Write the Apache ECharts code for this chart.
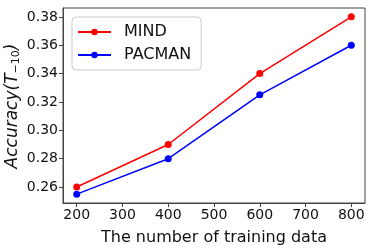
<!DOCTYPE html>
<html><head><meta charset="utf-8">
<script src="https://cdn.jsdelivr.net/npm/echarts@6/dist/echarts.min.js"></script>
<style>html,body{margin:0;padding:0;background:#fff}#c{width:374px;height:251px}</style>
</head><body><div id="c"></div>
<script>
const xValues = [200, 400, 600, 800];
const mindValues = [0.26, 0.29, 0.34, 0.38];
const pacmanValues = [0.255, 0.28, 0.325, 0.36];
const xTicks = [200, 300, 400, 500, 600, 700, 800];
const yTicks = [0.26, 0.28, 0.30, 0.32, 0.34, 0.36, 0.38];
const F = 'DejaVu Sans';
const chart = echarts.init(document.getElementById('c'));
chart.setOption({
  animation: false,
  grid: {left: 63, top: 8, right: 9, bottom: 46, show: true, borderColor: '#444', borderWidth: 1},
  xAxis: {
    type: 'value', min: 170, max: 830,
    axisLine: {show: true, onZero: false, lineStyle: {color: '#444'}},
    splitLine: {show: false},
    axisTick: {show: true, length: 4, customValues: xTicks, lineStyle: {color: '#444'}},
    axisLabel: {customValues: xTicks, color: '#111', fontFamily: F, fontSize: 14, margin: 5},
    name: 'The number of training data', nameLocation: 'middle', nameGap: 27,
    nameTextStyle: {color: '#111', fontFamily: F, fontSize: 16}
  },
  yAxis: {
    type: 'value', min: 0.24875, max: 0.38625,
    axisLine: {show: true, onZero: false, lineStyle: {color: '#444'}},
    splitLine: {show: false},
    axisTick: {show: true, length: 4, customValues: yTicks, lineStyle: {color: '#444'}},
    axisLabel: {customValues: yTicks, color: '#111', fontFamily: F, fontSize: 14, margin: 5,
      formatter: v => v.toFixed(2)}
  },
  legend: {
    left: 72, top: 17, orient: 'vertical',
    itemWidth: 33, itemHeight: 8, itemGap: 7,
    padding: [7, 10, 7, 5],
    borderColor: '#ccc', borderWidth: 1, borderRadius: 4,
    textStyle: {color: '#111', fontFamily: F, fontSize: 16, padding: [0, 0, 0, 8]},
    data: ['MIND', 'PACMAN']
  },
  graphic: [{
    type: 'text', rotation: Math.PI / 2,
    x: 13, y: 106,
    style: {
      text: '{a|Accuracy(T}{s|−10}{a|)}',
      rich: {
        a: {fontFamily: F, fontSize: 17, fontStyle: 'italic', fill: '#111'},
        s: {fontFamily: F, fontSize: 11, fill: '#111', verticalAlign: 'bottom', padding: [6, 0, 0, 0]}
      },
      align: 'center', verticalAlign: 'middle'
    }
  }],
  series: [
    {name: 'MIND', type: 'line', data: xValues.map((x, i) => [x, mindValues[i]]),
     color: '#ff0000', symbol: 'circle', symbolSize: 7, lineStyle: {width: 1.5}},
    {name: 'PACMAN', type: 'line', data: xValues.map((x, i) => [x, pacmanValues[i]]),
     color: '#0000ff', symbol: 'circle', symbolSize: 7, lineStyle: {width: 1.5}}
  ]
});
</script></body></html>
